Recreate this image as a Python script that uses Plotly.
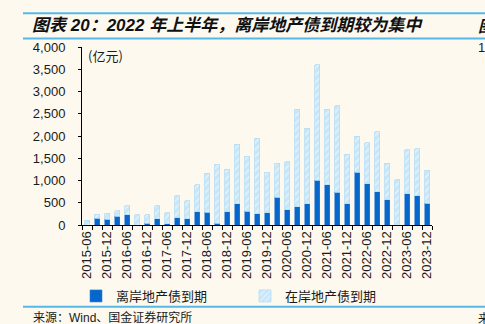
import plotly.graph_objects as go

# ---- data ----
quarters = [
    "2015-06", "2015-09", "2015-12", "2016-03", "2016-06", "2016-09", "2016-12",
    "2017-03", "2017-06", "2017-09", "2017-12", "2018-03", "2018-06", "2018-09",
    "2018-12", "2019-03", "2019-06", "2019-09", "2019-12", "2020-03", "2020-06",
    "2020-09", "2020-12", "2021-03", "2021-06", "2021-09", "2021-12", "2022-03",
    "2022-06", "2022-09", "2022-12", "2023-03", "2023-06", "2023-09", "2023-12",
]
offshore = [0, 150, 130, 200, 235, 0, 45, 145, 30, 165, 145, 300, 285, 45, 300,
            480, 310, 255, 280, 625, 345, 415, 475, 1005, 900, 735, 475, 1185,
            925, 750, 565, 0, 705, 655, 490]
onshore = [110, 95, 135, 115, 195, 225, 190, 285, 240, 495, 405, 600, 880, 1320,
           955, 1335, 1235, 1695, 900, 765, 1075, 2190, 1700, 2600, 1705, 1945,
           1115, 810, 920, 1345, 825, 1015, 985, 1055, 740]
y_ticks = [0, 500, 1000, 1500, 2000, 2500, 3000, 3500, 4000]

name_off = "离岸地产债到期"
name_on = "在岸地产债到期"
title = "图表 20：2022 年上半年，离岸地产债到期较为集中"
unit = "(亿元)"
source = "来源：Wind、国金证券研究所"

# ---- layout geometry (pixels) ----
W, H = 485, 324
L, R, T, B = 82, 432, 47, 225
FONT = "Liberation Sans, Arial, Noto Sans CJK SC, sans-serif"
BG = "#fdf9ef"
LINE_BLUE = "#55b8e6"


def px(x):
    return (x - L) / (R - L)


def py(y):
    return (B - y) / (B - T)


idx = list(range(len(quarters)))

fig = go.Figure()
fig.add_trace(go.Bar(
    x=idx, y=offshore, name=name_off,
    marker=dict(color="#0566cc", line=dict(color="#2f7fd6", width=0.6)),
    width=0.5,
))
fig.add_trace(go.Bar(
    x=idx, y=onshore, name=name_on,
    marker=dict(
        color="#c6e6f9",
        line=dict(color="#b4ddf6", width=0.8),
        pattern=dict(shape="/", bgcolor="#c6e6f9", fgcolor="#ffffff",
                     size=5, solidity=0.3),
    ),
    width=0.5,
))

fig.update_layout(
    width=W, height=H,
    margin=dict(l=L, r=W - R, t=T, b=H - B),
    barmode="stack",
    paper_bgcolor=BG, plot_bgcolor=BG,
    font=dict(family=FONT, size=13, color="#1a1a1a"),
    showlegend=True,
    legend=dict(
        orientation="h", x=px(76), y=py(296), xanchor="left", yanchor="middle",
        traceorder="normal",
        font=dict(size=13, family="Noto Sans CJK SC, sans-serif"),
        bgcolor="rgba(0,0,0,0)", entrywidth=124, entrywidthmode="pixels",
        itemclick=False, itemdoubleclick=False,
    ),
    xaxis=dict(
        range=[-0.5, len(quarters) - 0.5],
        tickmode="array",
        tickvals=idx[::2], ticktext=quarters[::2],
        tickangle=-90, ticks="", showgrid=False, zeroline=False,
        showline=True, linecolor="#000000", linewidth=1,
        tickfont=dict(size=13),
        minor=dict(tick0=-0.5, dtick=1, ticks="outside", ticklen=4,
                   tickcolor="#000000", showgrid=False),
    ),
    yaxis=dict(
        range=[0, 4000], tickvals=y_ticks, tickformat=",",
        ticks="outside", ticklen=3, tickcolor="#000000",
        ticklabelstandoff=10,
        showgrid=False, zeroline=False,
        showline=True, linecolor="#000000", linewidth=1,
        tickfont=dict(size=13),
    ),
)

shapes = []
for yy, x0 in [(13.3, 23), (38.5, 23), (306.7, 23)]:
    shapes.append(dict(type="line", xref="paper", yref="paper",
                       x0=px(x0), x1=px(W + 5), y0=py(yy), y1=py(yy),
                       line=dict(color=LINE_BLUE, width=2)))
fig.update_layout(shapes=shapes)

annotations = [
    dict(text="<b><i>" + title + "</i></b>", x=px(30), y=py(25.5),
         xref="paper", yref="paper", xanchor="left", yanchor="middle",
         showarrow=False, font=dict(size=17, color="#111111",
                                    family="Liberation Sans, Noto Sans CJK SC")),
    dict(text=unit, x=px(86), y=py(55.5), xref="paper", yref="paper",
         xanchor="left", yanchor="middle", showarrow=False,
         font=dict(size=13, family="Noto Sans CJK SC, sans-serif")),
    dict(text=source, x=px(31), y=py(317), xref="paper", yref="paper",
         xanchor="left", yanchor="middle", showarrow=False,
         font=dict(size=12, family="Liberation Sans, Noto Sans CJK SC")),
    dict(text="<b><i>图</i></b>", x=px(476), y=py(25.5), xref="paper", yref="paper",
         xanchor="left", yanchor="middle", showarrow=False,
         font=dict(size=16, color="#111111", family="Noto Sans CJK SC")),
    dict(text="1", x=px(476), y=py(47), xref="paper", yref="paper",
         xanchor="left", yanchor="middle", showarrow=False,
         font=dict(size=13)),
    dict(text="来", x=px(476), y=py(317), xref="paper", yref="paper",
         xanchor="left", yanchor="middle", showarrow=False,
         font=dict(size=12, family="Noto Sans CJK SC")),
]
fig.update_layout(annotations=annotations)

fig.write_html("out.html")
